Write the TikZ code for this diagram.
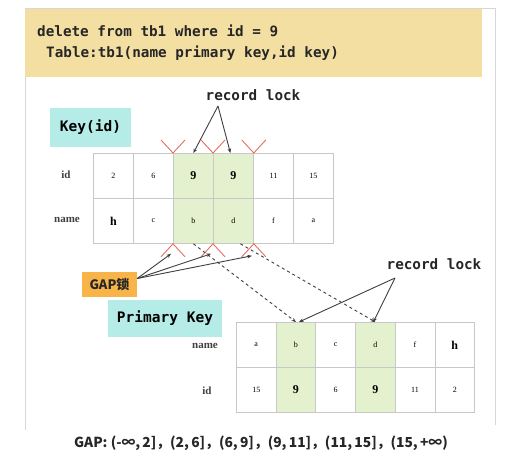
\documentclass[tikz,border=0pt]{standalone}
\usepackage{fontspec}
\setmainfont{Liberation Serif}
\newfontfamily\codefont{DejaVu Sans Mono}
\newfontfamily\cjkfont{Noto Sans CJK SC}
\usetikzlibrary{arrows.meta}
\usetikzlibrary{calc}
\definecolor{banner}{RGB}{244,223,163}
\definecolor{keyteal}{RGB}{182,236,231}
\definecolor{lockgreen}{RGB}{228,241,206}
\definecolor{gaporange}{RGB}{248,180,72}
\definecolor{gapred}{RGB}{226,112,96}
\definecolor{tablegray}{RGB}{200,200,200}
\definecolor{framegray}{RGB}{215,215,215}
\definecolor{arrowgray}{RGB}{62,62,62}
\tikzset{>={Stealth[length=4.5pt,width=3.6pt]}}
\tikzset{
	freecell/.style={draw=tablegray, line width=0.8pt, inner sep=0pt, minimum width=40pt, minimum height=45pt, anchor=north west, font=\fontsize{8}{8}\selectfont},
	hotcell/.style={freecell, fill=lockgreen},
	keybox/.style={fill=keyteal, inner sep=0pt, font=\codefont\bfseries\fontsize{14.5}{16}\selectfont},
	rowlabel/.style={font=\bfseries\fontsize{11}{11}\selectfont, text=black!75},
	locktext/.style={font=\codefont\bfseries\fontsize{14.3}{16}\selectfont, text=black!85},
	lockarrow/.style={draw=arrowgray, line width=0.9pt, ->},
	gapmark/.style={draw=gapred, line width=0.9pt},
}

\begin{document}
\begin{tikzpicture}[x=1pt, y=-1pt]
	\useasboundingbox (0,0) rectangle (517,455);

	% slide frame and statement
	\draw[framegray, line width=0.6pt] (25,430) -- (25,8) -- (495,8) -- (495,425);
	\fill[banner] (25,9) rectangle (482,77);
	\node[locktext, anchor=west, inner sep=0pt] (stmt) at (37,31) {delete from tb1 where id = 9};
	\node[locktext, anchor=west, inner sep=0pt] (tbl) at (46,53) {Table:tb1(name primary key,id key)};

	% secondary index
	\node[keybox, minimum width=81pt, minimum height=39pt] (kid) at (90.5,127.5) {Key(id)};
	\node[rowlabel] (k-id) at (66,175) {id};
	\node[rowlabel] (k-name) at (67,220) {name};
	\foreach \v/\s [count=\i] in {2/freecell, 6/freecell, \textbf{\large 9}/hotcell, \textbf{\large 9}/hotcell, 11/freecell, 15/freecell}
		\node[\s] (k-1-\i) at ({93+40*(\i-1)},153) {\v};
	\foreach \v/\s [count=\i] in {\textbf{\large h}/freecell, c/freecell, b/hotcell, d/hotcell, f/freecell, a/freecell}
		\node[\s] (k-2-\i) at ({93+40*(\i-1)},198) {\v};

	\node[locktext] (rl-key) at (253,95) {record lock};
	\coordinate (rl-key-fork) at (218,106);
	\draw[lockarrow] (rl-key-fork) -- (k-1-3.north);
	\draw[lockarrow] (rl-key-fork) -- ([xshift=-3pt]k-1-4.north);

	\foreach \c in {k-1-3.north west, k-1-4.north west, k-1-4.north east}
		\draw[gapmark] ($(\c)+(-12,-13)$) -- (\c) -- ($(\c)+(12,-13)$);
	\foreach \c in {k-2-3.south west, k-2-4.south west, k-2-4.south east}
		\draw[gapmark] ($(\c)+(-12,13)$) -- (\c) -- ($(\c)+(12,13)$);

	% gap locks
	\node[fill=gaporange, minimum width=55pt, minimum height=25pt, inner sep=0pt, font=\cjkfont\bfseries\fontsize{13}{13}\selectfont, text=black!85] (gap) at (109.5,284.5) {GAP锁};
	\draw[lockarrow] ([yshift=6pt]gap.east) -- ($(k-2-3.south west)+(-2,10)$);
	\draw[lockarrow] ([yshift=6pt]gap.east) -- ($(k-2-4.south west)+(-2,10)$);
	\draw[lockarrow] ([yshift=6pt]gap.east) -- ($(k-2-4.south east)+(-2,12)$);

	% primary index
	\node[keybox, minimum width=114pt, minimum height=37pt] (pk) at (165,318.5) {Primary Key};
	\node[rowlabel] (p-name) at (205,346) {name};
	\node[rowlabel] (p-id) at (207,391) {id};
	\foreach \v/\s [count=\i] in {a/freecell, b/hotcell, c/freecell, d/hotcell, f/freecell, \textbf{\large h}/freecell}
		\node[\s, minimum width=39.7pt] (p-1-\i) at ({236+39.7*(\i-1)},322) {\v};
	\foreach \v/\s [count=\i] in {15/freecell, \textbf{\large 9}/hotcell, 6/freecell, \textbf{\large 9}/hotcell, 11/freecell, 2/freecell}
		\node[\s, minimum width=39.7pt] (p-2-\i) at ({236+39.7*(\i-1)},367) {\v};

	\draw[lockarrow, dashed] (k-2-3.south) -- (p-1-2.north);
	\draw[lockarrow, dashed] ([xshift=7pt]k-2-4.south) -- (p-1-4.north);

	\node[locktext] (rl-pk) at (434,264) {record lock};
	\coordinate (rl-pk-fork) at (395,278);
	\draw[lockarrow] (rl-pk-fork) -- ([xshift=3pt]p-1-2.north);
	\draw[lockarrow] (rl-pk-fork) -- ([xshift=-2pt]p-1-4.north);

	\node[font=\cjkfont\bfseries\fontsize{13.8}{14}\selectfont, text=black!85] (gaps) at (261,443) {GAP: (-∞,\,2]，(2,\,6]，(6,\,9]，(9,\,11]，(11,\,15]，(15,\,+∞)};

\end{tikzpicture}
\end{document}
